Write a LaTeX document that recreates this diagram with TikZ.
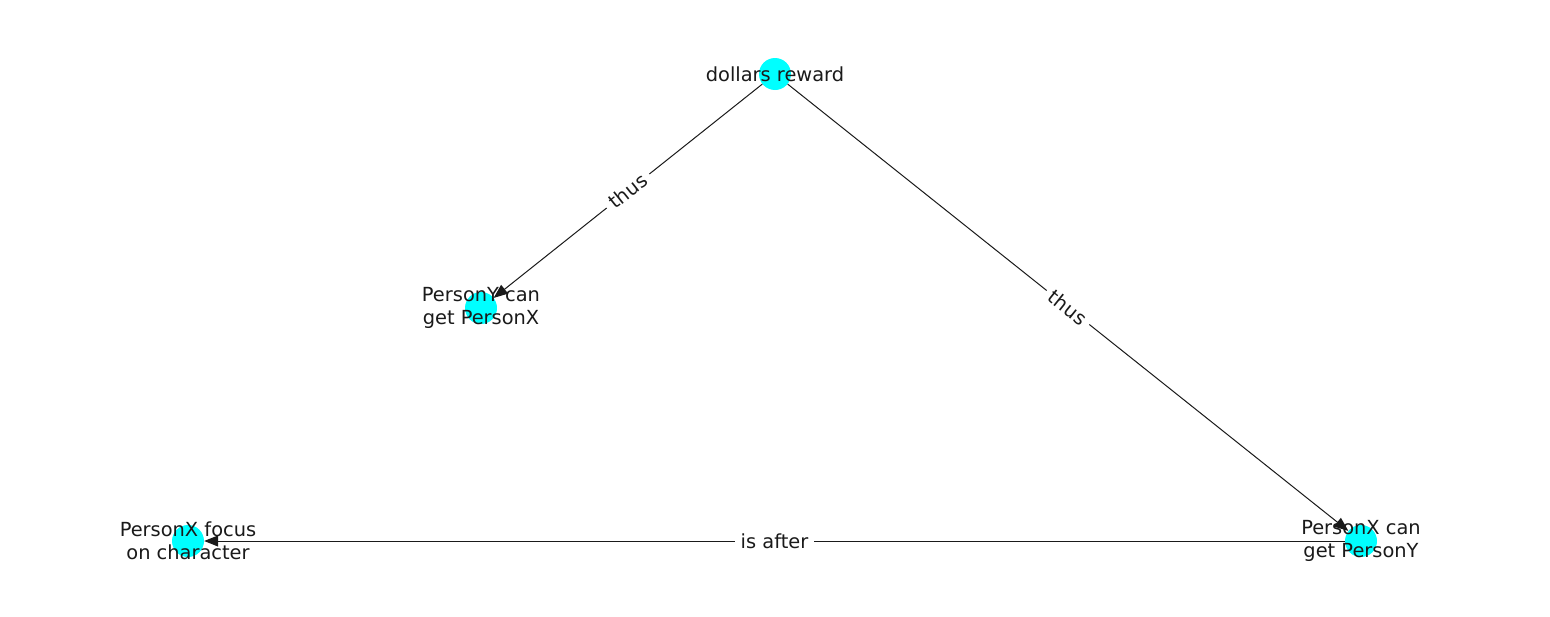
\documentclass[tikz,border=0pt]{standalone}
\usepackage{fontspec}
\setmainfont{DejaVu Sans}
\usetikzlibrary{arrows.meta}
\definecolor{nodecyan}{HTML}{00FFFF}
\definecolor{ink}{HTML}{1A1A1A}
\tikzset{
  dot/.style={circle, fill=nodecyan, minimum size=32pt, inner sep=0pt},
  caption/.style={text=ink, align=center, font=\fontsize{19.4}{22.5}\selectfont, inner sep=0pt},
  link/.style={draw=ink, line width=1pt, -{Triangle[length=14pt, width=11pt]}},
  edgetext/.style={fill=white, text=ink, font=\fontsize{19.4}{22.5}\selectfont, inner sep=6pt, sloped, pos=0.5}
}
\begin{document}
\begin{tikzpicture}[x=1pt, y=-1pt]
  \useasboundingbox[fill=white] (0,0) rectangle (1550,616);
  % nodes
  \node[dot] (reward) at (775,74) {};
  \node[dot] (ygetx)  at (481,308) {};
  \node[dot] (focus)  at (188,541) {};
  \node[dot] (xgety)  at (1361,541) {};
  % connectors
  \draw[link] (reward) -- node[edgetext] {thus} (ygetx);
  \draw[link] (reward) -- node[edgetext] {thus} (xgety);
  \draw[link] (xgety) -- node[edgetext] {is after} (focus);
  % node texts
  \node[caption] at (reward) {dollars reward};
  \node[caption] at (ygetx) {PersonY can\\get PersonX};
  \node[caption] at (focus) {PersonX focus\\on character};
  \node[caption] at (xgety) {PersonX can\\get PersonY};
\end{tikzpicture}
\end{document}
